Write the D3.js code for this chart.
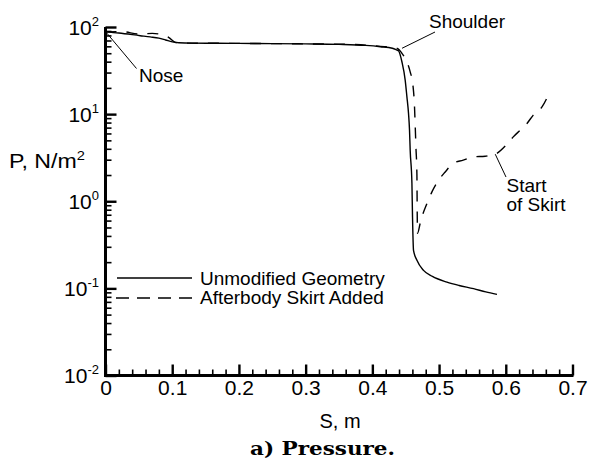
<!DOCTYPE html>
<html>
<head>
<meta charset="utf-8">
<script src="https://cdn.jsdelivr.net/npm/d3@7"></script>
<style>
  html, body { margin: 0; padding: 0; background: #fff; }
  svg { display: block; }
</style>
</head>
<body>
<svg id="chart" width="589" height="459"></svg>
<script>
// ---- data ----
const seriesNames = ["Unmodified Geometry", "Afterbody Skirt Added"];

const sSolid = [0, 0.02, 0.052, 0.067, 0.08, 0.09, 0.1, 0.11, 0.13, 0.167, 0.2, 0.25, 0.3, 0.35, 0.39, 0.412, 0.43,
  0.4368, 0.4392, 0.4443, 0.4492, 0.4518, 0.4542, 0.4557, 0.4567, 0.4593, 0.4602, 0.4617, 0.4668, 0.4767,
  0.49, 0.5118, 0.53, 0.5517, 0.57, 0.5868];
const pSolid = [88, 85.3, 79.5, 77, 74.5, 71, 67.5, 66.0, 65.3, 65.1, 64.8, 64.5, 64.0, 63.2, 61.5, 59.4, 57,
  54.4, 53.4, 39.9, 24.6, 15.8, 10.2, 6.55, 3.86, 1.61, 0.66, 0.273, 0.21, 0.161,
  0.137, 0.118, 0.108, 0.0992, 0.091, 0.0853];

const sDashed = [0, 0.025, 0.05, 0.07, 0.085, 0.095, 0.105, 0.12, 0.167, 0.2, 0.25, 0.3, 0.35, 0.39, 0.412, 0.43,
  0.436, 0.4405, 0.4443, 0.4518, 0.4567, 0.4608, 0.4632, 0.4642, 0.4653, 0.4668, 0.4672, 0.4677,
  0.4717, 0.4743, 0.4818, 0.4893, 0.4992, 0.5092, 0.5212, 0.5362, 0.5512, 0.5692, 0.5842,
  0.6018, 0.6112, 0.6217, 0.6318, 0.6412, 0.6543, 0.6637];
const pDashed = [88, 88.4, 83.1, 84.4, 81.7, 75.7, 66.4, 65.3, 65.1, 64.8, 64.5, 64.0, 63.5, 62, 60, 58.5,
  57.4, 54.5, 49.9, 39.9, 30.6, 21.5, 12.1, 7.48, 4.21, 1.99, 0.79, 0.428,
  0.559, 0.66, 0.941, 1.28, 1.74, 2.17, 2.73, 2.96, 3.23, 3.29, 3.47,
  4.52, 5.48, 6.55, 7.82, 9.75, 12.1, 16.5];

const xMajorTicks = [0, 0.1, 0.2, 0.3, 0.4, 0.5, 0.6, 0.7];
const xTickLabels = ["0", "0.1", "0.2", "0.3", "0.4", "0.5", "0.6", "0.7"];
const yMajorTicks = [0.01, 0.1, 1, 10, 100];
const yTickExponents = ["-2", "-1", "0", "1", "2"];

// annotations: label lines and the (S, P) point the leader touches
const annoNose = { lines: ["Nose"], s: 0.002, p: 85 };
const annoShoulder = { lines: ["Shoulder"], s: 0.4445, p: 57 };
const annoSkirt = { lines: ["Start", "of Skirt"], s: 0.5842, p: 3.47 };

const SANS = "'Liberation Sans', Arial, Helvetica, sans-serif";
const SERIF = "'DejaVu Serif', 'Liberation Serif', serif";

// ---- scales ----
const svg = d3.select("#chart").style("font-family", SANS);
const x = d3.scaleLinear().domain([0, 0.7]).range([105.5, 572.5]);
const y = d3.scaleLog().domain([0.01, 100]).range([375.5, 27]);

// ---- curves ----
const line = d3.line().x(d => x(d[0])).y(d => y(d[1])).curve(d3.curveMonotoneX);
const solidData = sSolid.map((s, i) => [s, pSolid[i]]);
const dashedData = sDashed.map((s, i) => [s, pDashed[i]]);

svg.append("path").attr("d", line(solidData))
  .attr("fill", "none").attr("stroke", "#000").attr("stroke-width", 1.4);
svg.append("path").attr("d", line(dashedData))
  .attr("fill", "none").attr("stroke", "#000").attr("stroke-width", 1.4)
  .attr("stroke-dasharray", "11,10");

// ---- axes ----
const xMinor = d3.range(0, 0.7001, 0.02).filter(v => Math.abs(v * 10 - Math.round(v * 10)) > 1e-6);
const yMinor = [];
[0.01, 0.1, 1, 10].forEach(d => { for (let k = 2; k <= 9; k++) yMinor.push(d * k); });

const gx = svg.append("g").attr("transform", "translate(0,375.5)");
gx.call(d3.axisBottom(x).tickValues(xMajorTicks).tickSize(-11).tickPadding(0)
  .tickFormat((d, i) => xTickLabels[i]));
const gxm = gx.append("g").call(d3.axisBottom(x).tickValues(xMinor).tickSize(-6).tickFormat(""));
gxm.select(".domain").remove();
gx.select(".domain").attr("stroke", "#000").attr("stroke-width", 3)
  .attr("d", `M${x(0) - 1.5},0H${x(0.7) + 1}`);
gx.selectAll(".tick line").attr("stroke", "#000").attr("stroke-width", 2.4);
gxm.selectAll(".tick line").attr("stroke-width", 1.6);
gx.selectAll(".tick text").attr("font-size", 21).style("font-family", SANS)
  .attr("y", 19.5).attr("dy", 0).attr("fill", "#000");

const gy = svg.append("g").attr("transform", "translate(105.5,0)");
gy.call(d3.axisLeft(y).tickValues(yMajorTicks).tickSize(-11).tickFormat(""));
const gym = gy.append("g").call(d3.axisLeft(y).tickValues(yMinor).tickSize(-6).tickFormat(""));
gym.select(".domain").remove();
gy.select(".domain").attr("stroke", "#000").attr("stroke-width", 3)
  .attr("d", `M0,${y(100)}V${y(0.01) + 1.5}`);
gy.selectAll(".tick line").attr("stroke", "#000").attr("stroke-width", 2.4);
gym.selectAll(".tick line").attr("stroke-width", 1.6);

// y tick labels with superscripts
const yl = svg.append("g");
yMajorTicks.forEach((v, i) => {
  const t = yl.append("text").attr("x", 99).attr("y", y(v) + 7.5)
    .attr("text-anchor", "end").attr("font-size", 21);
  t.append("tspan").text("10");
  t.append("tspan").attr("dy", -9).attr("font-size", 13).text(yTickExponents[i]);
});

// axis titles
svg.append("text").attr("x", 340).attr("y", 428).attr("text-anchor", "middle")
  .attr("font-size", 20).text("S, m");
const yt = svg.append("text").attr("transform", "translate(9,168) scale(1.13,1)").attr("font-size", 20.5);
yt.append("tspan").text("P, N/m");
yt.append("tspan").attr("dy", -8).attr("font-size", 13).text("2");

// caption
svg.append("text").attr("x", 250).attr("y", 455)
  .style("font-family", SERIF).attr("font-weight", "bold")
  .attr("font-size", 19).attr("textLength", 145).attr("lengthAdjust", "spacingAndGlyphs")
  .text("a) Pressure.");

// ---- legend ----
const lg = svg.append("g");
lg.append("line").attr("x1", 117).attr("x2", 192).attr("y1", 278).attr("y2", 278)
  .attr("stroke", "#000").attr("stroke-width", 1.4);
lg.append("line").attr("x1", 192).attr("x2", 110).attr("y1", 298).attr("y2", 298)
  .attr("stroke", "#000").attr("stroke-width", 1.4).attr("stroke-dasharray", "13,8");
lg.append("text").attr("x", 200).attr("y", 285).attr("font-size", 19).text(seriesNames[0]);
lg.append("text").attr("x", 200).attr("y", 304).attr("font-size", 19).text(seriesNames[1]);

// ---- annotations ----
function leader(a, x2, y2) {
  svg.append("line").attr("x1", x(a.s)).attr("y1", y(a.p)).attr("x2", x2).attr("y2", y2)
    .attr("stroke", "#000").attr("stroke-width", 1);
}
leader(annoNose, 136.5, 68.5);
svg.append("text").attr("x", 139).attr("y", 82).attr("font-size", 19).text(annoNose.lines[0]);

leader(annoShoulder, 435, 32);
svg.append("text").attr("x", 429).attr("y", 28).attr("font-size", 19).text(annoShoulder.lines[0]);

leader(annoSkirt, 506, 177);
annoSkirt.lines.forEach((l, i) => {
  svg.append("text").attr("x", 506.5).attr("y", 192 + i * 19).attr("font-size", 19).text(l);
});
</script>
</body>
</html>
